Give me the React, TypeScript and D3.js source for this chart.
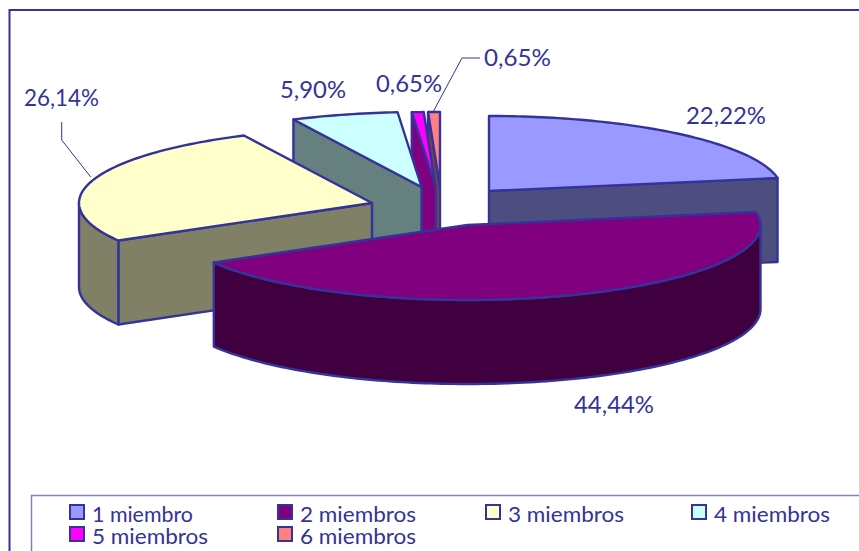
import React from "react";
import * as d3 from "d3";

// ---- data ----
const categories = ["1 miembro", "2 miembros", "3 miembros", "4 miembros", "5 miembros", "6 miembros"];
const percentages = [22.22, 44.44, 26.14, 5.9, 0.65, 0.65];
const valueLabels = ["22,22%", "44,44%", "26,14%", "5,90%", "0,65%", "0,65%"];
const topColors = ["#9999FF", "#800080", "#FFFFCC", "#CCFFFF", "#FF00FF", "#FF8080"];
const wallColors = ["#4D4D80", "#400040", "#808066", "#668080", "#800080", "#804040"];

// ---- layout ----
const W = 859;
const H = 551;
const INK = "#333399";
const FONT = "Lato, 'Open Sans', sans-serif";
const rx = 293;
const ry = 75;
const depth = 84;
// exploded apex of every slice
const apexX = [489, 467.5, 372, 421.5, 435.7, 440];
const apexY = [191, 225, 203, 187, 187, 187];
// which radial wall of a slice the camera sees
const visibleWall: ("start" | "end" | null)[] = ["end", null, "start", "start", "start", "start"];
// painter's order, back to front
const drawOrder = [0, 5, 4, 3, 2, 1];
const labelPos: [number, number, number][] = [
  [726, 124, 80],
  [614, 413, 80],
  [61.5, 106, 75],
  [313, 98, 66],
  [409, 92, 66],
  [517.5, 66, 67],
];
const legendX = [70, 278, 486, 692];
const legendY = [505, 527];

const pieGen = d3.pie<number>().sort(null).value((d) => d);
const arcs = pieGen(percentages);

const toPoint = (i: number, a: number, dy = 0): [number, number] => [
  apexX[i] + rx * Math.sin(a),
  apexY[i] - ry * Math.cos(a) + dy,
];
const sampleAngles = (a0: number, a1: number) => {
  const n = Math.max(2, Math.ceil((a1 - a0) / 0.02));
  return d3.range(n + 1).map((k) => a0 + ((a1 - a0) * k) / n);
};
const line = d3.line<[number, number]>();

function Slice({ i }: { i: number }) {
  const { startAngle: a0, endAngle: a1 } = arcs[i];
  const apex: [number, number] = [apexX[i], apexY[i]];
  const apexLow: [number, number] = [apexX[i], apexY[i] + depth];
  const top = [apex, ...sampleAngles(a0, a1).map((a) => toPoint(i, a))];
  const wall = (a: number) => [apex, toPoint(i, a), toPoint(i, a, depth), apexLow] as [number, number][];
  const r0 = Math.max(a0, Math.PI / 2);
  const r1 = Math.min(a1, (3 * Math.PI) / 2);
  const rim =
    r1 > r0
      ? [
          ...sampleAngles(r0, r1).map((a) => toPoint(i, a)),
          ...sampleAngles(r0, r1).reverse().map((a) => toPoint(i, a, depth)),
        ]
      : null;
  const common = { stroke: INK, strokeWidth: 2.4, strokeLinejoin: "round" as const };
  const vis = visibleWall[i];
  return (
    <g>
      {vis && <path d={line(wall(vis === "start" ? a0 : a1)) + "Z"} fill={wallColors[i]} {...common} />}
      {rim && <path d={line(rim) + "Z"} fill={wallColors[i]} {...common} />}
      <path d={line(top) + "Z"} fill={topColors[i]} {...common} />
    </g>
  );
}

export default function App() {
  return (
    <svg
      width={W}
      height={H}
      viewBox={`0 0 ${W} ${H}`}
      style={{ position: "absolute", left: 0, top: 0, display: "block", background: "#fff" }}
    >
      {/* chart frame runs off the right and bottom */}
      <rect x={9.5} y={10} width={W + 20} height={H + 20} fill="#fff" stroke={INK} strokeWidth={2} />

      {drawOrder.map((i) => (
        <Slice key={i} i={i} />
      ))}

      {/* leader lines */}
      <path d="M61.7,122V140L90.7,177" fill="none" stroke={INK} strokeWidth={1} />
      <path d="M480,58H462L433,112" fill="none" stroke={INK} strokeWidth={1} />

      {valueLabels.map((t, i) => (
        <text
          key={i}
          x={labelPos[i][0]}
          y={labelPos[i][1]}
          textAnchor="middle"
          fontFamily={FONT}
          fontSize={23}
          fill={INK}
          textLength={labelPos[i][2]}
          lengthAdjust="spacingAndGlyphs"
        >
          {t}
        </text>
      ))}

      {/* legend */}
      <rect x={31.5} y={495.5} width={W} height={H} fill="#fff" stroke="#8080C0" strokeWidth={1.5} />
      {categories.map((c, i) => {
        const col = i % 4;
        const row = Math.floor(i / 4);
        return (
          <g key={c}>
            <rect
              x={legendX[col]}
              y={legendY[row]}
              width={14}
              height={14}
              fill={topColors[i]}
              stroke={INK}
              strokeWidth={2}
            />
            <text
              x={legendX[col] + 22}
              y={legendY[row] + 17}
              fontFamily={FONT}
              fontSize={22}
              fill={INK}
              textLength={c.length === 9 ? 101 : 116}
              lengthAdjust="spacingAndGlyphs"
            >
              {c}
            </text>
          </g>
        );
      })}
    </svg>
  );
}
